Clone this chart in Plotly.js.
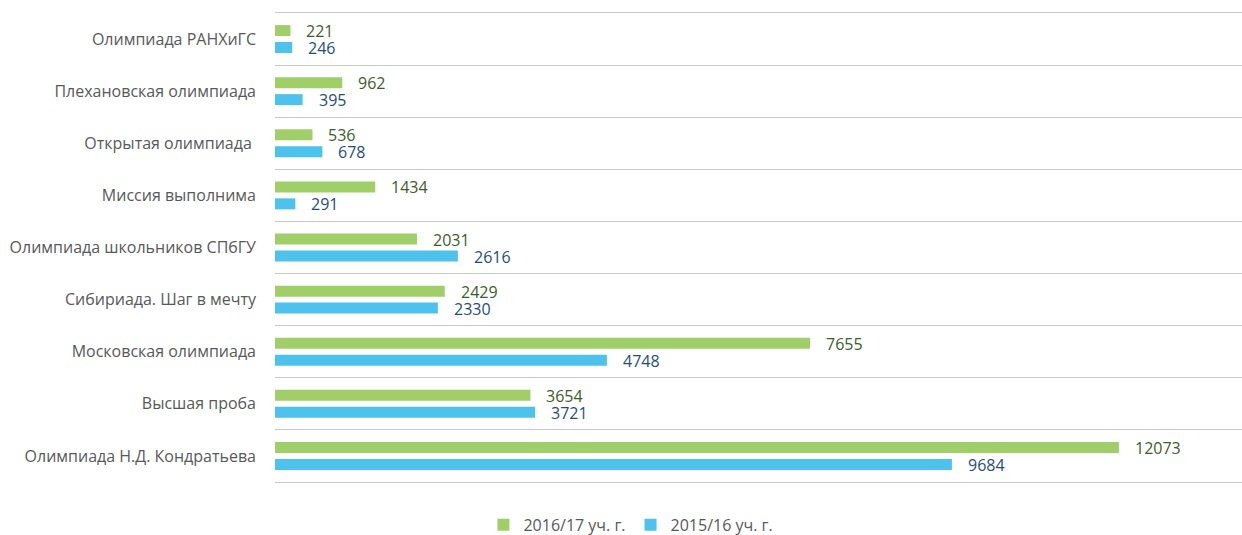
<!DOCTYPE html>
<html>
<head>
<meta charset="utf-8">
<script src="https://cdn.plot.ly/plotly-3.0.1.min.js"></script>
<style>html,body{margin:0;padding:0;background:#fff;}#chart{width:1242px;height:535px;}</style>
</head>
<body>
<div id="chart"></div>
<script>
const categories = [
  "Олимпиада РАНХиГС",
  "Плехановская олимпиада",
  "Открытая олимпиада ",
  "Миссия выполнима",
  "Олимпиада школьников СПбГУ",
  "Сибириада. Шаг в мечту",
  "Московская олимпиада",
  "Высшая проба",
  "Олимпиада Н.Д. Кондратьева"
];
const series2016 = [221, 962, 536, 1434, 2031, 2429, 7655, 3654, 12073];
const series2015 = [246, 395, 678, 291, 2616, 2330, 4748, 3721, 9684];
const seriesNames = ["2016/17 уч. г.", "2015/16 уч. г."];

const greenBar = "#a0cf69", blueBar = "#4cc2ec";
const greenText = "#3c5e2a", blueText = "#1f4e79";

const traces = [
  {type: "bar", orientation: "h", name: seriesNames[0], y: categories, x: series2016,
   marker: {color: greenBar}, hoverinfo: "x"},
  {type: "bar", orientation: "h", name: seriesNames[1], y: categories, x: series2015,
   marker: {color: blueBar}, hoverinfo: "x"}
];

const annotations = [];
categories.forEach((c, i) => {
  annotations.push({x: series2016[i], y: c, xref: "x", yref: "y", text: String(series2016[i]),
    showarrow: false, xanchor: "left", yanchor: "middle", xshift: 14, yshift: 8,
    font: {family: "Open Sans", size: 16, color: greenText}});
  annotations.push({x: series2015[i], y: c, xref: "x", yref: "y", text: String(series2015[i]),
    showarrow: false, xanchor: "left", yanchor: "middle", xshift: 14, yshift: -9,
    font: {family: "Open Sans", size: 16, color: blueText}});
});

const layout = {
  width: 1242, height: 535,
  margin: {l: 275, r: 0, t: 13, b: 53, autoexpand: false},
  paper_bgcolor: "#fff", plot_bgcolor: "#fff",
  barmode: "group", bargap: 0.35, bargroupgap: 0.35,
  font: {family: "Open Sans", size: 16, color: "#595959"},
  xaxis: {range: [0, 13834], showticklabels: false, showgrid: false, zeroline: false,
    showline: true, mirror: true, linecolor: "#c8c8c8", linewidth: 1, fixedrange: true},
  yaxis: {type: "category", autorange: "reversed", tickson: "boundaries",
    showgrid: true, gridcolor: "#c8c8c8", gridwidth: 1, ticks: "", showline: false,
    zeroline: false, ticklabelstandoff: 18,
    tickfont: {family: "Open Sans", size: 16, color: "#595959"}},
  showlegend: true,
  legend: {orientation: "h", xref: "container", yref: "container", x: 0.508, xanchor: "center",
    y: 0.019, yanchor: "middle", font: {family: "Open Sans", size: 16, color: "#595959"},
    itemwidth: 30, traceorder: "normal"},
  annotations: annotations
};

Plotly.newPlot("chart", traces, layout, {displayModeBar: false, staticPlot: true});
</script>
</body>
</html>
